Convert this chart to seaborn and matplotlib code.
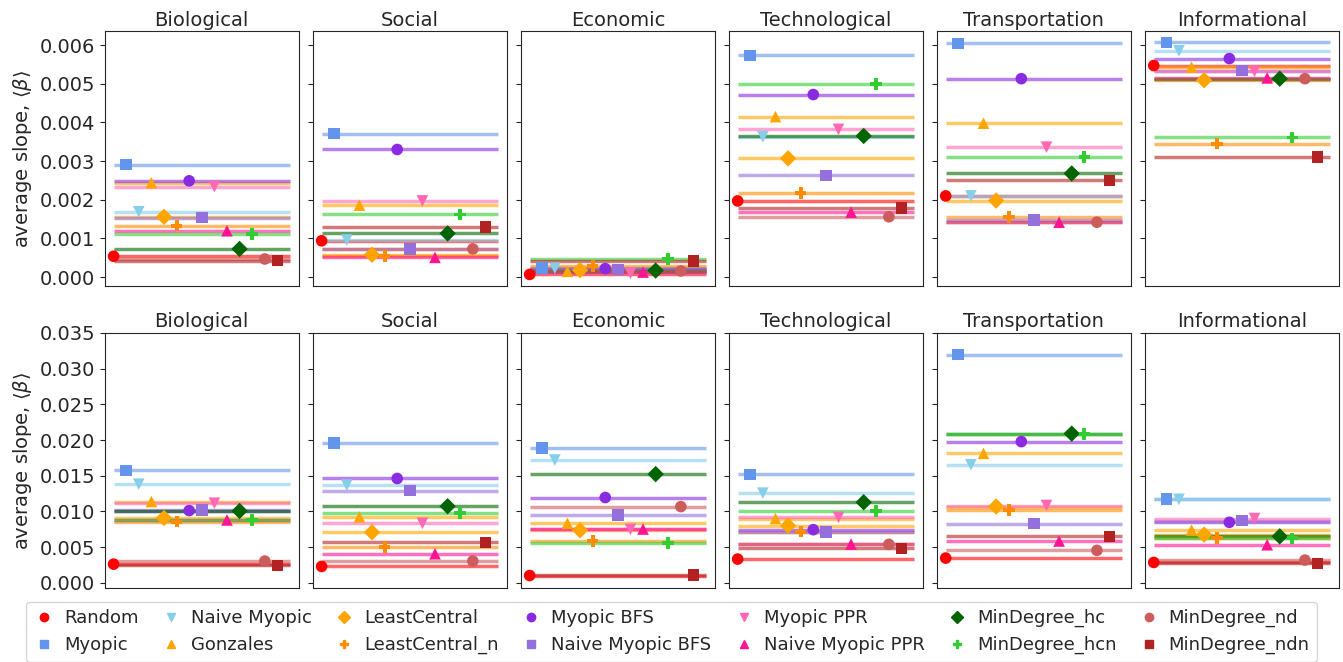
import numpy as np
import pandas as pd
import seaborn as sns
import matplotlib
matplotlib.use("Agg")
import matplotlib.pyplot as plt
from matplotlib.lines import Line2D

# strategies, in legend order
strategies = ['Random', 'Myopic', 'Naive Myopic', 'Gonzales', 'LeastCentral',
              'LeastCentral_n', 'Myopic BFS', 'Naive Myopic BFS', 'Myopic PPR',
              'Naive Myopic PPR', 'MinDegree_hc', 'MinDegree_hcn',
              'MinDegree_nd', 'MinDegree_ndn']
colors = ['red', 'cornflowerblue', 'skyblue', 'orange', 'orange', 'darkorange',
          'blueviolet', 'mediumpurple', 'hotpink', 'deeppink', 'darkgreen',
          'limegreen', 'indianred', 'firebrick']
markers = ['o', 's', 'v', '^', 'D', 'P', 'o', 's', 'v', '^', 'D', 'P', 'o', 's']

domains = ['Biological', 'Social', 'Economic', 'Technological', 'Transportation', 'Informational']

# top row (values in units of 1e-3)
top_bio = [0.54, 2.91, 1.69, 2.44, 1.56, 1.33, 2.49, 1.54, 2.34, 1.20, 0.73, 1.12, 0.47, 0.43]
top_soc = [0.94, 3.71, 0.96, 1.86, 0.58, 0.55, 3.30, 0.73, 1.97, 0.51, 1.13, 1.62, 0.73, 1.29]
top_eco = [0.07, 0.24, 0.23, 0.15, 0.18, 0.28, 0.22, 0.20, 0.10, 0.13, 0.17, 0.47, 0.16, 0.42]
top_tec = [1.97, 5.73, 3.63, 4.15, 3.07, 2.18, 4.72, 2.63, 3.82, 1.68, 3.65, 4.99, 1.56, 1.78]
top_tra = [2.10, 6.04, 2.10, 3.98, 1.98, 1.55, 5.13, 1.48, 3.36, 1.42, 2.68, 3.11, 1.42, 2.50]
top_inf = [5.47, 6.07, 5.85, 5.43, 5.09, 3.45, 5.65, 5.34, 5.32, 5.15, 5.13, 3.61, 5.13, 3.10]

# bottom row
bot_bio = [0.00262, 0.01575, 0.01382, 0.01139, 0.00909, 0.00858, 0.01012, 0.01022, 0.01115, 0.00881, 0.01007, 0.00876, 0.00305, 0.00244]
bot_soc = [0.00230, 0.01959, 0.01368, 0.00923, 0.00708, 0.00501, 0.01462, 0.01293, 0.00834, 0.00408, 0.01073, 0.00979, 0.00305, 0.00567]
bot_eco = [0.00103, 0.01889, 0.01720, 0.00834, 0.00736, 0.00586, 0.01195, 0.00951, 0.00750, 0.00754, 0.01523, 0.00562, 0.01068, 0.00112]
bot_tec = [0.00333, 0.01518, 0.01256, 0.00900, 0.00801, 0.00717, 0.00745, 0.00708, 0.00918, 0.00544, 0.01129, 0.01003, 0.00539, 0.00483]
bot_tra = [0.00347, 0.03196, 0.01654, 0.01814, 0.01069, 0.01022, 0.01978, 0.00829, 0.01083, 0.00586, 0.02090, 0.02081, 0.00455, 0.00651]
bot_inf = [0.00286, 0.01176, 0.01170, 0.00740, 0.00675, 0.00628, 0.00848, 0.00872, 0.00900, 0.00534, 0.00651, 0.00623, 0.00319, 0.00272]

top_rows = [np.array(v) * 1e-3 for v in [top_bio, top_soc, top_eco, top_tec, top_tra, top_inf]]
bot_rows = [np.array(v) for v in [bot_bio, bot_soc, bot_eco, bot_tec, bot_tra, bot_inf]]

sns.set_style('ticks')
plt.rcParams['font.family'] = ['DejaVu Sans']
plt.rcParams['ytick.labelsize'] = 14
plt.rcParams['axes.titlesize'] = 14
plt.rcParams['axes.labelsize'] = 14

fig, axes = plt.subplots(2, 6, figsize=(13.43, 6.62), dpi=100, sharey='row')
fig.subplots_adjust(left=0.078, right=0.997, top=0.953, bottom=0.112,
                    wspace=0.072, hspace=0.184)

pal = dict(zip(strategies, colors))
mk = dict(zip(strategies, markers))

for r, rows in enumerate([top_rows, bot_rows]):
    for c, vals in enumerate(rows):
        ax = axes[r, c]
        df = pd.DataFrame({'strategy': strategies,
                           'pos': np.arange(len(strategies)),
                           'value': vals})
        ax.hlines(df['value'], 0, len(strategies), colors=colors, alpha=0.6, lw=2.5)
        sns.scatterplot(data=df, x='pos', y='value', hue='strategy', style='strategy',
                        palette=pal, markers=mk, s=70, edgecolor='none',
                        legend=False, ax=ax, zorder=3)
        ax.set_title(domains[c], pad=4)
        ax.set_xticks([])
        ax.set_xlabel('')
        ax.set_ylabel('')

axes[0, 0].set_yticks(np.arange(0, 0.0061, 0.001))
axes[0, 0].set_ylim(-0.00023, 0.00636)
axes[1, 0].set_yticks(np.arange(0, 0.0351, 0.005))
axes[1, 0].set_ylim(-0.0007, 0.035)
for r in range(2):
    axes[r, 0].set_ylabel(r'average slope, $\langle\beta\rangle$')
    for lab in axes[r, 0].get_yticklabels():
        lab.set_fontsize(14)

handles = [Line2D([], [], ls='none', marker=m, color=col, markersize=6)
           for m, col in zip(markers, colors)]
fig.legend(handles, strategies, loc='lower center', ncol=7, fontsize=13,
           bbox_to_anchor=(0.5, -0.005), handlelength=1.2, handletextpad=0.5,
           columnspacing=1.2, borderaxespad=0.2)

fig.savefig('out.png', dpi=100)
